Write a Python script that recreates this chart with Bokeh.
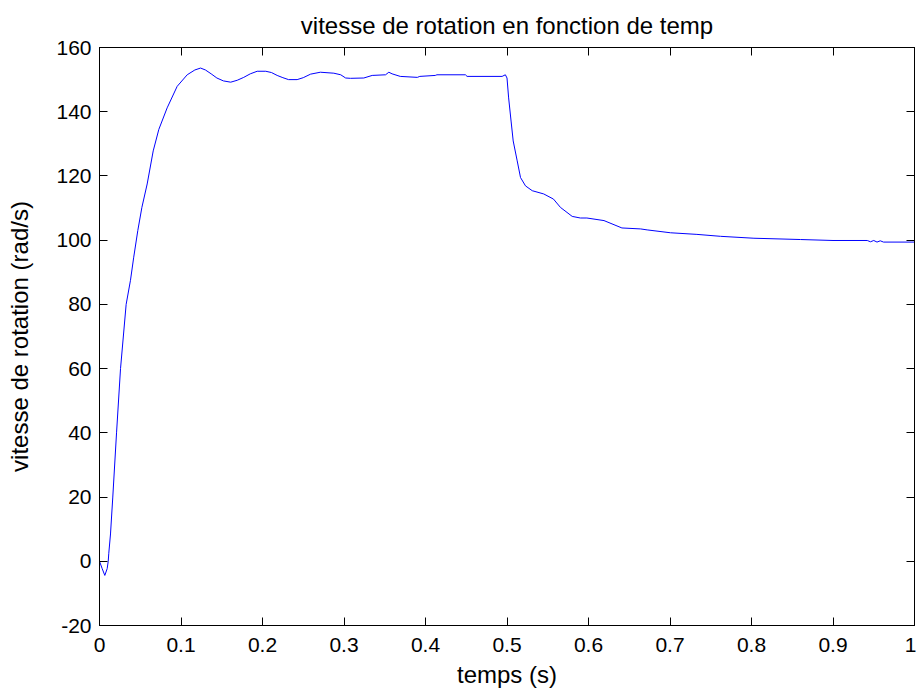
from bokeh.plotting import figure
from bokeh.models import Range1d, LinearAxis, FixedTicker
from bokeh.embed import file_html
from bokeh.resources import INLINE

# time (s)
t = [0, 0.0033, 0.0065, 0.0094, 0.0107, 0.0114, 0.0135, 0.0163, 0.0209, 0.0258,
     0.0327, 0.038, 0.042, 0.047, 0.052, 0.0585, 0.0659, 0.0728, 0.083, 0.0953,
     0.1076, 0.117, 0.124, 0.130, 0.137, 0.144, 0.152, 0.161, 0.169, 0.177,
     0.185, 0.1935, 0.204, 0.211, 0.218, 0.225, 0.232, 0.2425, 0.25, 0.259,
     0.271, 0.2875, 0.296, 0.302, 0.308, 0.3243, 0.3346, 0.351, 0.355, 0.359,
     0.369, 0.39, 0.393, 0.412, 0.414, 0.449, 0.451, 0.494, 0.498, 0.5,
     0.502, 0.505, 0.5076, 0.5125, 0.5166, 0.5227, 0.531, 0.545, 0.557, 0.5656,
     0.58, 0.59, 0.598, 0.619, 0.641, 0.664, 0.672, 0.7006, 0.733, 0.762,
     0.803, 0.86, 0.90, 0.942, 0.946, 0.95, 0.954, 0.958, 0.962, 1.0]
# rotation speed (rad/s)
w = [0, -2.3, -4.4, -2.3, 0, 2.5, 8.5, 20, 40, 60,
     80, 87.5, 94.7, 103, 110.2, 117.5, 127.8, 134.5, 141.2, 147.9,
     151.5, 153.0, 153.6, 153.0, 151.8, 150.5, 149.6, 149.2, 149.8, 150.7,
     151.8, 152.6, 152.6, 152.2, 151.3, 150.6, 150.0, 150.0, 150.6, 151.7,
     152.3, 152.0, 151.5, 150.5, 150.4, 150.5, 151.3, 151.5, 152.3, 151.8,
     151.0, 150.7, 151.0, 151.3, 151.5, 151.5, 151.0, 151.0, 151.5, 150.5,
     144.3, 137.1, 130.9, 124.7, 119.5, 116.9, 115.4, 114.4, 112.8, 110.2,
     107.4, 106.9, 106.9, 106.1, 103.8, 103.5, 103.2, 102.3, 101.8, 101.2,
     100.6, 100.2, 99.9, 99.9, 99.5, 99.9, 99.4, 99.8, 99.4, 99.4]

x_ticks = [0, 0.1, 0.2, 0.3, 0.4, 0.5, 0.6, 0.7, 0.8, 0.9, 1]
x_tick_labels = ["0", "0.1", "0.2", "0.3", "0.4", "0.5", "0.6", "0.7", "0.8", "0.9", "1"]
y_ticks = [-20, 0, 20, 40, 60, 80, 100, 120, 140, 160]
y_tick_labels = ["-20", "0", "20", "40", "60", "80", "100", "120", "140", "160"]

FONT = "Liberation Sans"
TICK_FS = "21px"
LABEL_FS = "24px"

p = figure(width=916, height=690, output_backend="svg", toolbar_location=None,
           x_range=Range1d(0, 1), y_range=Range1d(-20, 160),
           min_border_left=99, min_border_right=2, min_border_top=46, min_border_bottom=63,
           title="vitesse de rotation en fonction de temp")
p.title.align = "center"
p.title.text_font = FONT
p.title.text_font_size = LABEL_FS
p.title.text_font_style = "normal"
p.title.text_color = "black"
p.title.standoff = 18

p.line(t, w, line_color="#0000ff", line_width=1)

p.xgrid.visible = False
p.ygrid.visible = False
p.outline_line_color = "black"
p.outline_line_width = 1
p.background_fill_color = "white"
p.border_fill_color = "white"

xa = p.xaxis[0]
ya = p.yaxis[0]
xa.ticker = FixedTicker(ticks=x_ticks)
ya.ticker = FixedTicker(ticks=y_ticks)
xa.major_label_overrides = {v: s for v, s in zip(x_ticks, x_tick_labels)}
ya.major_label_overrides = {v: s for v, s in zip(y_ticks, y_tick_labels)}
xa.axis_label = "temps (s)"
ya.axis_label = "vitesse de rotation (rad/s)"
for ax in (xa, ya):
    ax.major_tick_in = 8
    ax.major_tick_out = 0
    ax.minor_tick_in = 0
    ax.minor_tick_out = 0
    ax.axis_line_color = "black"
    ax.major_tick_line_color = "black"
    ax.major_label_text_font = FONT
    ax.major_label_text_font_size = TICK_FS
    ax.major_label_text_color = "black"
    ax.axis_label_text_font = FONT
    ax.axis_label_text_font_size = LABEL_FS
    ax.axis_label_text_font_style = "normal"
    ax.axis_label_text_color = "black"
xa.major_label_standoff = 12
ya.major_label_standoff = 8
xa.axis_label_standoff = 6
ya.axis_label_standoff = 20

# box ticks on top and right (no labels)
top = LinearAxis(ticker=FixedTicker(ticks=x_ticks),
                 major_label_overrides={v: "" for v in x_ticks})
right = LinearAxis(ticker=FixedTicker(ticks=y_ticks),
                   major_label_overrides={v: "" for v in y_ticks})
for ax in (top, right):
    ax.major_tick_in = 8
    ax.major_tick_out = 0
    ax.minor_tick_in = 0
    ax.minor_tick_out = 0
    ax.major_label_standoff = 0
    ax.axis_line_color = "black"
    ax.major_tick_line_color = "black"
p.add_layout(top, "above")
p.add_layout(right, "right")

open("out.html", "w").write(file_html(p, INLINE))
